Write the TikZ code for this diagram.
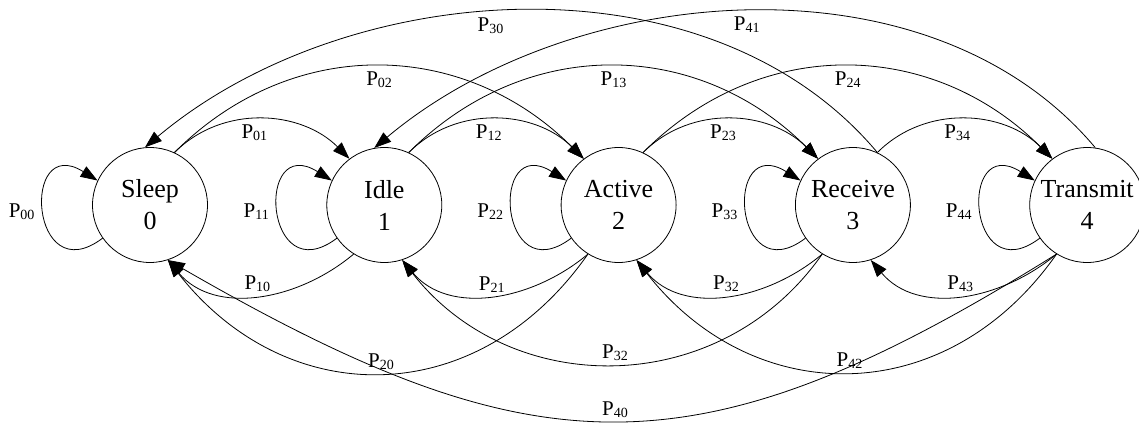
\documentclass[tikz,border=0pt]{standalone}
\usepackage{fontspec}
\setmainfont{Liberation Serif}
\usetikzlibrary{positioning,arrows.meta}

\newcommand{\statefont}{\fontsize{26}{32}\selectfont}
\newcommand{\probfont}{\fontsize{21}{24}\selectfont}
\newcommand{\trans}[1]{P\raisebox{-2pt}{\fontsize{14}{14}\selectfont #1}}

\begin{document}
\begin{tikzpicture}[x=1pt,y=1pt,>={Triangle[length=17pt,width=12pt]},line width=0.8pt,
      state/.style={circle,draw,minimum size=115pt,inner sep=0pt,align=center,font=\statefont},
      prob/.style={font=\probfont,inner sep=2pt}]
      \useasboundingbox (-150,-218) rectangle (989,205);

      \node[state] (s) {Sleep\\0};
      \node[state] (i) [right=118.5pt of s] {Idle\\1};
      \node[state] (a) [right=118.5pt of i] {Active\\2};
      \node[state] (r) [right=118.5pt of a] {Receive\\3};
      \node[state] (t) [right=118.5pt of r] {Transmit\\4};

      \path[->,nodes=prob]
        (s.215) edge [out=217,in=148,distance=91pt] node[left=7pt] {\trans{00}} (s.155)
        (i.215) edge [out=217,in=148,distance=91pt] node[left=7pt] {\trans{11}} (i.155)
        (a.215) edge [out=217,in=148,distance=91pt] node[left=7pt] {\trans{22}} (a.155)
        (r.215) edge [out=217,in=148,distance=91pt] node[left=7pt] {\trans{33}} (r.155)
        (t.215) edge [out=217,in=148,distance=91pt] node[left=7pt] {\trans{44}} (t.155)

        (s.65) edge [out=45,in=135] node[pos=0.46,below=3pt] {\trans{01}} (i.127)
        (i.65) edge [out=45,in=135] node[pos=0.46,below=3pt] {\trans{12}} (a.127)
        (a.65) edge [out=45,in=135] node[pos=0.46,below=3pt] {\trans{23}} (r.127)
        (r.65) edge [out=45,in=135] node[pos=0.46,below=3pt] {\trans{34}} (t.127)

        (s.65) edge [out=45,in=135,looseness=1.05] node[below=3pt] {\trans{02}} (a.127)
        (i.65) edge [out=45,in=135,looseness=1.05] node[below=3pt] {\trans{13}} (r.127)
        (a.65) edge [out=45,in=135,looseness=1.05] node[below=3pt] {\trans{24}} (t.127)

        (r.65) edge [out=130,in=40,looseness=0.92] node[pos=0.54,below=3pt] {\trans{30}} (s.95)
        (t.82) edge [out=130,in=40,looseness=0.92] node[below=3pt] {\trans{41}} (i.100)

        (i.238) edge [out=220,in=310] node[above=1pt] {\trans{10}} (s.288)
        (a.238) edge [out=220,in=310] node[above=1pt] {\trans{21}} (i.288)
        (r.238) edge [out=220,in=310] node[above=1pt] {\trans{32}} (a.288)
        (t.238) edge [out=220,in=310] node[above=1pt] {\trans{43}} (r.288)

        (a.238) edge [out=235,in=308,looseness=1.17] node[above=1pt] {\trans{20}} (s.288)
        (r.238) edge [out=235,in=308,looseness=1.08] node[above=1pt] {\trans{32}} (i.288)
        (t.238) edge [out=235,in=308,looseness=1.16] node[above=1pt] {\trans{42}} (a.288)

        (t.238) edge [out=212,in=330,looseness=1.22] node[above=1pt] {\trans{40}} (s.288);
\end{tikzpicture}
\end{document}
